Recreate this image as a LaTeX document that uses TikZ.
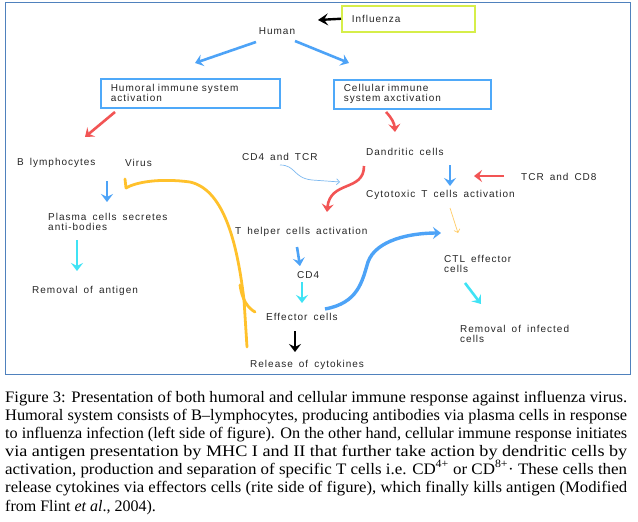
\documentclass[tikz,border=0pt]{standalone}
\usepackage{fontspec}
\usepackage{graphicx}
\setmainfont{Liberation Serif}
\newfontfamily\diagfont[LetterSpace=10,WordSpace=1.6]{Liberation Sans}
\usetikzlibrary{arrows.meta}
\definecolor{framec}{HTML}{4F81BD}
\definecolor{blueA}{HTML}{4DA3F7}
\definecolor{boxB}{HTML}{4FA9F9}
\definecolor{redA}{HTML}{F25454}
\definecolor{cyanA}{HTML}{3FE3F5}
\definecolor{yelA}{HTML}{FFC12B}
\definecolor{inflc}{HTML}{D6EE4A}
\definecolor{thinB}{HTML}{7DB9F0}
\definecolor{thinY}{HTML}{FFCC66}
\newlength\caplen
\newcommand\capline[1]{\settowidth{\caplen}{#1}\pgfmathsetmacro\capsf{622pt/\caplen}\scalebox{\capsf}[1]{#1}}
\begin{document}
\begin{tikzpicture}[x=1pt,y=-1pt,
  lbl/.style={font=\diagfont\fontsize{10}{10}\selectfont, text=black!85, inner sep=0pt, anchor=west, align=left},
  ibox/.style={font=\diagfont\fontsize{10}{10}\selectfont, text=black!85, draw=boxB, line width=1.5pt, fill=white,
     inner xsep=10pt, inner ysep=0pt, minimum height=29pt, align=left, anchor=north west},
  fatarr/.style={line width=2.6pt, -{Stealth[length=8pt,width=12pt,inset=3pt]}},
  thinarr/.style={line width=0.7pt, -{Straight Barb[length=3pt,width=6pt]}},
  captext/.style={font=\fontsize{16}{18}\selectfont, inner sep=0pt, anchor=base west}]
\useasboundingbox (0,0) rectangle (638,522);
\fill[white] (0,0) rectangle (638,522);
\draw[framec, line width=1pt] (5,2) rectangle (630,374);

% nodes
\node[lbl, anchor=center] (human) at (277,31) {Human};
\node[ibox, draw=inflc, minimum height=26pt, text width=113pt] (influenza) at (341,5) {Influenza};
\node[ibox, text width=159pt] (humoral) at (100,78) {Humoral immune system\\activation};
\node[ibox, text width=137pt] (cellular) at (333,79) {Cellular immune\\system axctivation};
\node[lbl] (blymph) at (17,163) {B lymphocytes};
\node[lbl] (virus) at (125,163) {Virus};
\node[lbl] (cdtcr) at (242,157) {CD4 and TCR};
\node[lbl] (dandritic) at (366,152) {Dandritic cells};
\node[lbl] (tcrcd) at (521,177) {TCR and CD8};
\node[lbl] (cytotoxic) at (366,195) {Cytotoxic T cells activation};
\node[lbl] (plasma) at (48,222) {Plasma cells secretes\\anti-bodies};
\node[lbl] (remantigen) at (32,291) {Removal of antigen};
\node[lbl] (thelper) at (235,232) {T helper cells activation};
\node[lbl] (cdfour) at (297,275) {CD4};
\node[lbl] (effector) at (266,317) {Effector cells};
\node[lbl] (release) at (250,365) {Release of cytokines};
\node[lbl] (ctl) at (444,264) {CTL effector\\cells};
\node[lbl] (reminf) at (460,334) {Removal of infected\\cells};

% connector end points
\coordinate (inflT) at (318,20);
\coordinate (humL0) at (256,42);  \coordinate (humL1) at (195,63);
\coordinate (humR0) at (295,41);  \coordinate (humR1) at (349,63);
\coordinate (humo0) at (115,112); \coordinate (humo1) at (85,137);
\coordinate (cell0) at (386,112); \coordinate (cell1) at (395,132);
\coordinate (dand0) at (450,165); \coordinate (dand1) at (450,186);
\coordinate (tcr0) at (504,176);  \coordinate (tcr1) at (474,176);
\coordinate (cdt0) at (280,165);  \coordinate (cdt1) at (340,182);
\coordinate (dS0) at (364,166);   \coordinate (dS1) at (327,212);
\coordinate (th0) at (297,247);   \coordinate (th1) at (300,266);
\coordinate (c40) at (302,282);   \coordinate (c41) at (302,303);
\coordinate (ef0) at (295,331);   \coordinate (ef1) at (295,352);
\coordinate (eS0) at (325,309);   \coordinate (eS1) at (441,233);
\coordinate (cy0) at (450,208);   \coordinate (cy1) at (458,233);
\coordinate (ct0) at (465,283);   \coordinate (ct1) at (481,304);
\coordinate (bl0) at (107,181);   \coordinate (bl1) at (107,202);
\coordinate (pl0) at (77,240);    \coordinate (pl1) at (77,271);
\coordinate (yl0) at (247,347);   \coordinate (yl1) at (126,188);
\coordinate (yb0) at (240,285);   \coordinate (yb1) at (255,312);

% connectors
\draw[black, line width=2.4pt, -{Stealth[length=10pt,width=12pt,inset=4pt]}] (influenza.west) -- (inflT);
\draw[fatarr, blueA] (humL0) -- (humL1);
\draw[fatarr, blueA] (humR0) -- (humR1);
\draw[fatarr, redA] (humo0) -- (humo1);
\draw[fatarr, redA] (cell0) to[bend left=20] (cell1);
\draw[fatarr, blueA] (dand0) -- (dand1);
\draw[fatarr, redA] (tcr0) -- (tcr1);
\draw[thinarr, thinB] (cdt0) .. controls (296,165) and (293,178) .. (312,180) -- (cdt1);
\draw[fatarr, redA] (dS0) .. controls (364,192) and (330,180) .. (dS1);
\draw[fatarr, blueA] (th0) -- (th1);
\draw[fatarr, cyanA] (c40) -- (c41);
\draw[fatarr, black] (ef0) -- (ef1);
\draw[fatarr, blueA, line width=3.4pt] (eS0) .. controls (358,303) and (362,282) .. (368,262) .. controls (376,240) and (410,233) .. (eS1);
\draw[thinarr, thinY] (cy0) -- (cy1);
\draw[fatarr, cyanA] (ct0) -- (ct1);
\draw[fatarr, blueA] (bl0) -- (bl1);
\draw[fatarr, cyanA] (pl0) -- (pl1);
\draw[yelA, line width=2.8pt, line cap=round, line join=round] (yl0) -- (244,300) .. controls (238,250) and (226,190) .. (190,182) .. controls (160,178) and (136,182) .. (yl1) -- (125,179);
\draw[yelA, line width=2.8pt, line cap=round] (yb0) .. controls (242,300) and (248,308) .. (yb1);

% caption
\node[captext] (cap1) at (5,402) {\capline{Figure 3: Presentation of both humoral and cellular immune response against influenza virus.}};
\node[captext] (cap2) at (5,420) {\capline{Humoral system consists of  B–lymphocytes, producing antibodies via plasma cells in response}};
\node[captext] (cap3) at (5,438) {\capline{to influenza infection (left side of figure). On the other hand, cellular immune response initiates}};
\node[captext] (cap4) at (5,456) {\capline{via antigen presentation by MHC I and II that further take action by dendritic cells by}};
\node[captext] (cap5) at (5,474) {\capline{activation, production and separation of specific T cells i.e. CD\textsuperscript{4+} or CD\textsuperscript{8+}· These cells then}};
\node[captext] (cap6) at (5,492) {\capline{release cytokines via effectors cells (rite side of figure), which finally kills antigen (Modified}};
\node[captext] (cap7) at (5,511) {from Flint \textit{et al}., 2004).};
\end{tikzpicture}
\end{document}
